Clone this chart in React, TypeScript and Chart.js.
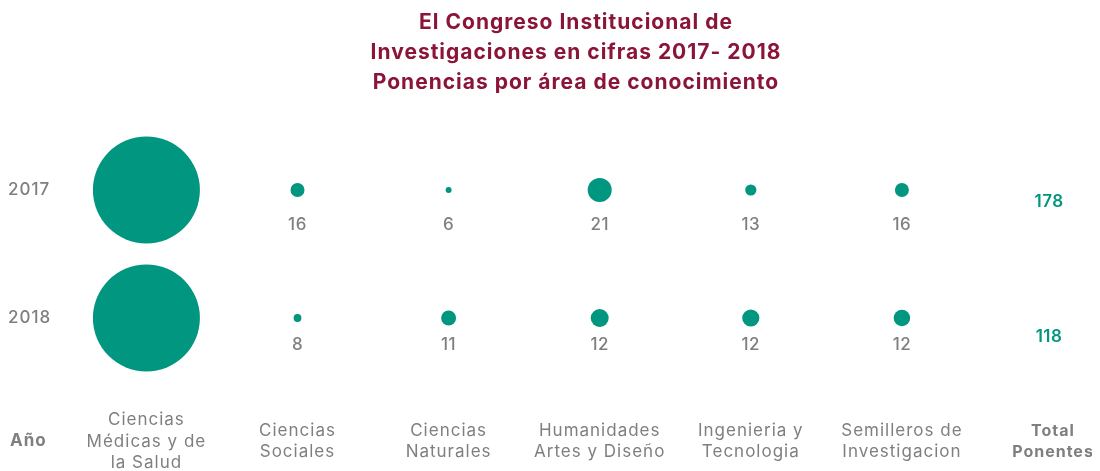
import { useEffect, useRef } from "react";
import { Chart, registerables } from "chart.js";

Chart.register(...registerables);

// ---- data ----
const titleLines = [
  "El Congreso Institucional de",
  "Investigaciones en cifras 2017- 2018",
  "Ponencias por área de conocimiento",
];
const areas: string[][] = [
  ["Ciencias", "Médicas y de", "la Salud"],
  ["Ciencias", "Sociales"],
  ["Ciencias", "Naturales"],
  ["Humanidades", "Artes y Diseño"],
  ["Ingenieria y", "Tecnologia"],
  ["Semilleros de", "Investigacion"],
  ["Total", "Ponentes"],
];
const years = ["2017", "2018"];
const rowHeader = "Año";
const ponencias2017 = [106, 16, 6, 21, 13, 16];
const ponencias2018 = [63, 8, 11, 12, 12, 12];
// bubble size dimension
const bubble2017 = [53.5, 7, 3, 12, 5.6, 7];
const bubble2018 = [53.5, 3.9, 7.5, 9, 8.6, 8.3];
const totals = [178, 118];

// ---- styles ----
const FONT = "Inter, 'Open Sans', sans-serif";
const GRAY = "#7f7f7f";
const TEAL = "#00967f";
const MAROON = "#8a1538";
const TICK_PAD = 38;
const ANO_PAD = 27;
const LINE_H = 21.5;
const FS = 17;
const SPACING = "1px";
const valueOffset = [35, 27];
const totalOffset = [12, 19];

const rows = [ponencias2017, ponencias2018];
const sizes = [bubble2017, bubble2018];

const spacingPlugin = {
  id: "letterSpacing",
  beforeLayout(chart: any) {
    (chart.ctx as any).letterSpacing = SPACING;
  },
  beforeDraw(chart: any) {
    (chart.ctx as any).letterSpacing = SPACING;
  },
};

const labelPlugin = {
  id: "cellLabels",
  afterDraw(chart: any) {
    const { ctx } = chart;
    const xs = chart.scales.x;
    const ys = chart.scales.y;
    ctx.save();
    ctx.letterSpacing = "0.5px";
    ctx.textAlign = "center";
    ctx.textBaseline = "middle";
    rows.forEach((row, r) => {
      const y = ys.getPixelForValue(r);
      ctx.font = `500 ${FS}px ${FONT}`;
      ctx.fillStyle = GRAY;
      row.forEach((v, i) => {
        if (i === 0) return;
        ctx.fillText(String(v), xs.getPixelForValue(i + 1), y + valueOffset[r]);
      });
      ctx.font = `600 ${FS}px ${FONT}`;
      ctx.fillStyle = TEAL;
      ctx.fillText(String(totals[r]), xs.getPixelForValue(areas.length) - 4, y + totalOffset[r]);
    });
    ctx.textAlign = "left";
    ctx.letterSpacing = SPACING;
    ctx.font = `bold ${FS}px ${FONT}`;
    ctx.fillStyle = GRAY;
    ctx.fillText(rowHeader, ys.left + 2, xs.top + ANO_PAD + 1.5 * LINE_H);
    ctx.restore();
  },
};

export default function App() {
  const ref = useRef<HTMLCanvasElement | null>(null);
  useEffect(() => {
    if (!ref.current) return;
    const datasets = rows.map((row, r) => ({
      label: years[r],
      data: row.map((v, i) => ({ x: i + 1, y: r, r: sizes[r][i], v })),
      backgroundColor: TEAL,
      borderWidth: 0,
      hoverBorderWidth: 0,
      clip: false as any,
    }));
    const chart = new Chart(ref.current, {
      type: "bubble",
      data: { datasets },
      options: {
        animation: false,
        responsive: true,
        maintainAspectRatio: false,
        layout: { autoPadding: false, padding: { top: 0, bottom: 0, left: 0, right: -44 } },
        events: [],
        plugins: {
          legend: { display: false },
          tooltip: { enabled: false },
          title: {
            display: true,
            text: titleLines,
            color: MAROON,
            font: { family: FONT, size: 21, weight: "bold", lineHeight: 30 / 21 },
            padding: { top: 0, bottom: 28 },
          },
        },
        scales: {
          x: {
            type: "linear",
            min: 0.4017,
            max: 7.311,
            grid: { display: false, drawTicks: false },
            border: { display: false },
            afterBuildTicks: (s: any) => {
              s.ticks = areas.map((_, i) => ({ value: i + 1 }));
            },
            afterFit: (s: any) => {
              s.height = 89;
              s.paddingLeft = 0;
              s.paddingRight = 0;
            },
            ticks: {
              autoSkip: false,
              maxRotation: 0,
              minRotation: 0,
              padding: TICK_PAD,
              crossAlign: "center",
              color: GRAY,
              font: (c: any) => {
                const isTotal = c.index === areas.length - 1;
                const size = isTotal ? 16 : FS;
                return {
                  family: FONT,
                  size,
                  lineHeight: LINE_H / size,
                  weight: isTotal ? "bold" : "normal",
                };
              },
              callback: (v: any) => areas[Math.round(v) - 1],
            },
          },
          y: {
            type: "linear",
            reverse: true,
            min: -0.5,
            max: 1.5,
            grid: { display: false, drawTicks: false },
            border: { display: false },
            afterBuildTicks: (s: any) => {
              s.ticks = years.map((_, i) => ({ value: i }));
            },
            afterFit: (s: any) => {
              s.width = 48;
              s.paddingTop = 0;
              s.paddingBottom = 0;
            },
            ticks: {
              padding: 0,
              crossAlign: "far",
              color: GRAY,
              font: { family: FONT, size: FS, weight: "500" },
              callback: (v: any) => years[Math.round(v)],
            },
          },
        },
      },
      plugins: [spacingPlugin, labelPlugin],
    });
    return () => chart.destroy();
  }, []);
  return (
    <div style={{ position: "relative", width: "calc(100% + 8px)", height: "463px" }}>
      <canvas ref={ref} />
    </div>
  );
}
